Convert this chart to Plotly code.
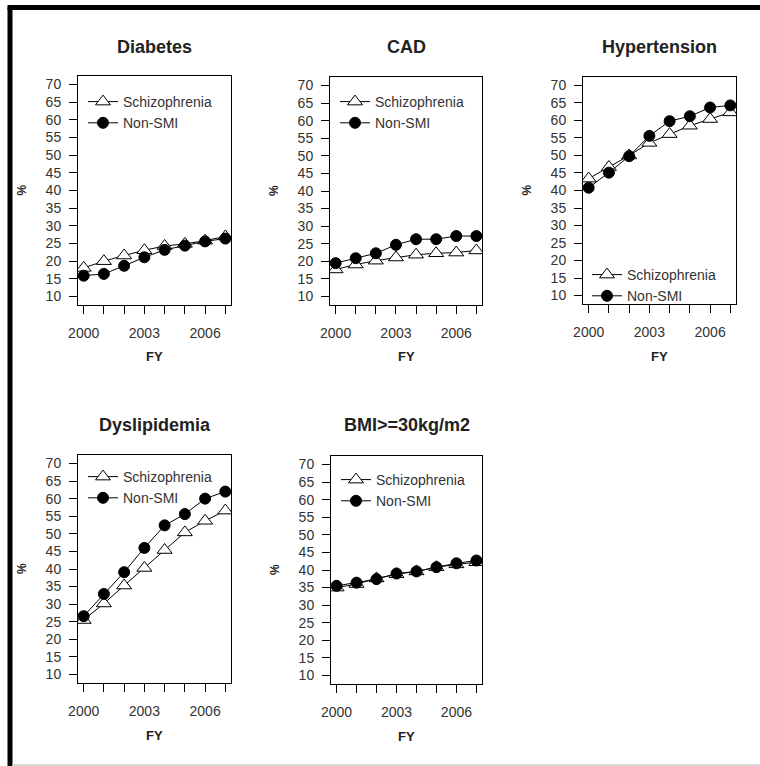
import plotly.graph_objects as go

years = [2000, 2001, 2002, 2003, 2004, 2005, 2006, 2007]
titles = ["Diabetes", "CAD", "Hypertension", "Dyslipidemia", "BMI>=30kg/m2"]

schizophrenia = {
    "Diabetes":      [18.1, 20.0, 21.6, 23.1, 24.3, 24.9, 25.8, 27.0],
    "CAD":           [17.7, 19.1, 20.2, 21.1, 21.9, 22.3, 22.5, 23.1],
    "Hypertension":  [43.4, 46.7, 50.0, 53.6, 56.1, 58.5, 60.4, 62.3],
    "Dyslipidemia":  [25.5, 30.2, 35.3, 40.3, 45.4, 50.4, 53.7, 56.6],
    "BMI>=30kg/m2":  [35.0, 36.0, 37.6, 38.8, 39.6, 40.8, 41.6, 42.2],
}
non_smi = {
    "Diabetes":      [15.9, 16.4, 18.7, 21.1, 23.2, 24.4, 25.6, 26.4],
    "CAD":           [19.5, 20.9, 22.3, 24.7, 26.3, 26.3, 27.2, 27.2],
    "Hypertension":  [40.8, 45.1, 49.8, 55.6, 59.8, 61.2, 63.7, 64.3],
    "Dyslipidemia":  [26.6, 32.9, 39.1, 46.0, 52.4, 55.6, 60.0, 62.0],
    "BMI>=30kg/m2":  [35.5, 36.4, 37.4, 39.0, 39.6, 40.8, 41.9, 42.7],
}
y_ticks = [10, 15, 20, 25, 30, 35, 40, 45, 50, 55, 60, 65, 70]
x_tick_labels = ["2000", "", "", "2003", "", "", "2006", ""]

W, H = 760, 766
FONT = "Liberation Sans, Arial, sans-serif"

# panel boxes in pixels: (left, right, top, bottom)
boxes = [
    (78, 231, 76, 305),
    (330, 482, 77, 305),
    (583, 736, 77, 304),
    (78, 231, 455, 683),
    (331, 482, 456, 684),
]
# legend position (px) : (x, y, yanchor)
leg_pos = [
    (83, 86, "top"),
    (335, 86, "top"),
    (587, 312, "bottom"),
    (83, 461, "top"),
    (336, 464, "top"),
]

fig = go.Figure()
layout = dict(
    width=W, height=H, autosize=False,
    margin=dict(l=0, r=0, t=0, b=0, pad=0, autoexpand=False),
    paper_bgcolor="white", plot_bgcolor="white",
    font=dict(family=FONT, color="#222"),
    showlegend=True,
)
annotations = []
shapes = []

for i, t in enumerate(titles):
    n = i + 1
    xa = "x" if n == 1 else f"x{n}"
    ya = "y" if n == 1 else f"y{n}"
    lg = "legend" if n == 1 else f"legend{n}"
    l, r, tp, b = boxes[i]
    fig.add_trace(go.Scatter(
        x=years, y=schizophrenia[t], name="Schizophrenia", mode="lines+markers",
        xaxis=xa, yaxis=ya, legend=lg,
        line=dict(color="black", width=1),
        marker=dict(symbol="triangle-up", size=13, color="white",
                    line=dict(color="black", width=1)),
    ))
    fig.add_trace(go.Scatter(
        x=years, y=non_smi[t], name="Non-SMI", mode="lines+markers",
        xaxis=xa, yaxis=ya, legend=lg,
        line=dict(color="black", width=1),
        marker=dict(symbol="circle", size=11, color="black",
                    line=dict(color="black", width=1)),
    ))
    xkey = "xaxis" if n == 1 else f"xaxis{n}"
    ykey = "yaxis" if n == 1 else f"yaxis{n}"
    layout[xkey] = dict(
        domain=[l / W, r / W], anchor=ya, range=[1999.72, 2007.28],
        tickvals=years, ticktext=x_tick_labels, ticks="outside", ticklen=8,
        tickcolor="black", showline=True, linecolor="black", linewidth=1,
        mirror=True, showgrid=False, zeroline=False, automargin=False,
        tickfont=dict(size=14, color="#333", family=FONT),
        ticklabelstandoff=7,
    )
    layout[ykey] = dict(
        domain=[1 - b / H, 1 - tp / H], anchor=xa, range=[7.6, 72.4],
        tickvals=y_ticks, ticks="outside", ticklen=8, tickcolor="black",
        showline=True, linecolor="black", linewidth=1, mirror=True,
        showgrid=False, zeroline=False, automargin=False,
        tickfont=dict(size=14, color="#333", family=FONT),
        ticklabelstandoff=5,
    )
    lx, ly, anc = leg_pos[i]
    layout[lg] = dict(
        x=lx / W, y=1 - ly / H, xanchor="left", yanchor=anc,
        bgcolor="rgba(0,0,0,0)", borderwidth=0,
        font=dict(size=14, color="#333", family=FONT),
        tracegroupgap=0, itemwidth=30,
    )
    cx = (l + r) / 2
    title_y = 47 if i < 3 else 425
    annotations.append(dict(
        text=f"<b>{t}</b>", x=cx / W, y=1 - title_y / H, xref="paper", yref="paper",
        showarrow=False, font=dict(size=18, color="#222", family=FONT),
        xanchor="center", yanchor="middle",
    ))
    fy_y = b + 52
    annotations.append(dict(
        text="<b>FY</b>", x=cx / W, y=1 - fy_y / H, xref="paper", yref="paper",
        showarrow=False, font=dict(size=13, color="#222", family=FONT),
        xanchor="center", yanchor="middle",
    ))
    annotations.append(dict(
        text="<b>%</b>", x=(l - 56) / W, y=1 - ((tp + b) / 2) / H,
        xref="paper", yref="paper", textangle=-90,
        showarrow=False, font=dict(size=12, color="#222", family=FONT),
        xanchor="center", yanchor="middle",
    ))

# outer frame (thick black left and top, thin gray bottom)
shapes.append(dict(type="line", xref="paper", yref="paper",
                   x0=10 / W, x1=10 / W, y0=0, y1=1 - 7.5 / H,
                   line=dict(color="black", width=5)))
shapes.append(dict(type="line", xref="paper", yref="paper",
                   x0=7.5 / W, x1=1, y0=1 - 7.5 / H, y1=1 - 7.5 / H,
                   line=dict(color="black", width=5)))
shapes.append(dict(type="line", xref="paper", yref="paper",
                   x0=12 / W, x1=1, y0=1 / H, y1=1 / H,
                   line=dict(color="#cccccc", width=1.5)))

layout["annotations"] = annotations
layout["shapes"] = shapes
fig.update_layout(**layout)
fig.write_html(
    "out.html",
    config={"displayModeBar": False},
    post_script="document.body.style.margin='0';document.body.style.padding='0';"
                "document.body.style.overflow='hidden';",
)
